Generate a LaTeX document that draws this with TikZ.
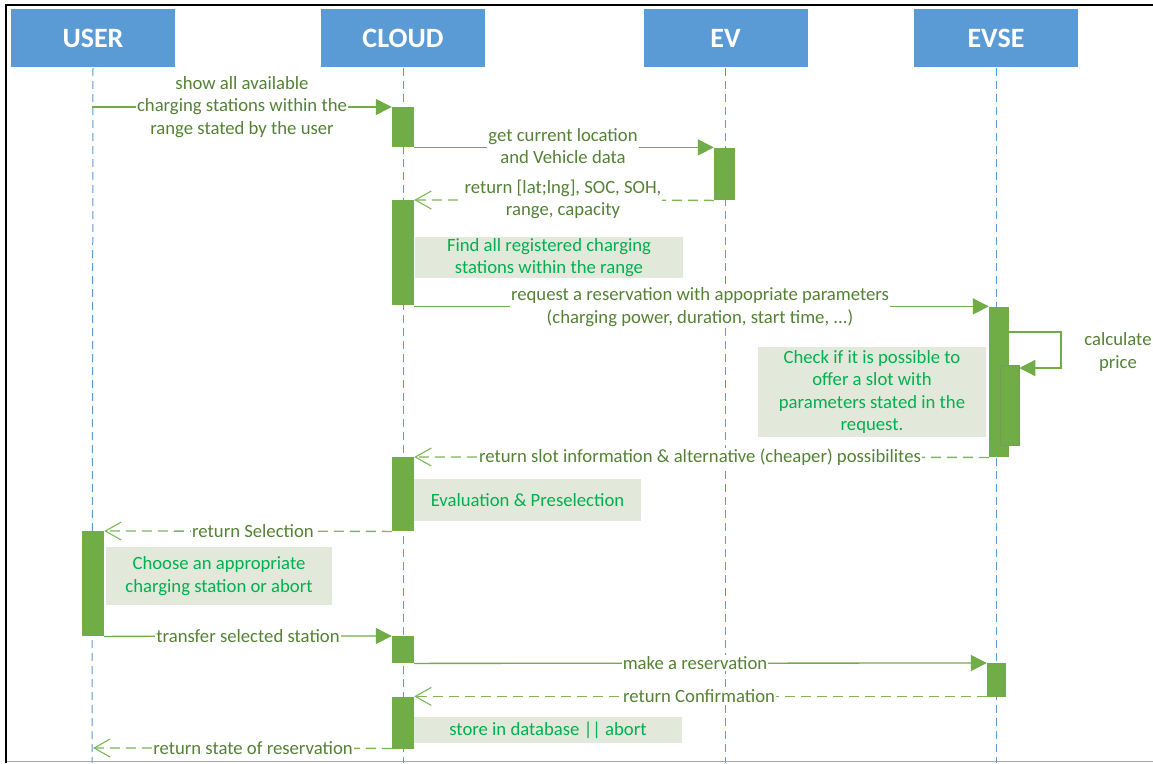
\documentclass[tikz,border=0pt]{standalone}
\usepackage{fontspec}
\setmainfont{Carlito}
\usetikzlibrary{arrows.meta,backgrounds}
\definecolor{hdrblue}{HTML}{5B9BD5}
\definecolor{bargreen}{HTML}{70AD47}
\definecolor{msgtext}{HTML}{548235}
\definecolor{notetext}{HTML}{00B050}
\definecolor{notefill}{RGB}{226,233,218}
\definecolor{retgreen}{HTML}{7DB857}
\tikzset{
  hdr/.style={fill=hdrblue, draw=none, minimum width=164pt, minimum height=58pt, inner sep=0pt,
    text=white, font=\fontsize{28}{30}\selectfont\bfseries},
  life/.style={draw=hdrblue, line width=1pt, dash pattern=on 8pt off 5pt},
  actbar/.style={fill=bargreen, draw=none, inner sep=0pt, anchor=north},
  msg/.style={draw=bargreen, line width=1.3pt, -{Triangle[length=16pt,width=16pt]}},
  ret/.style={draw=retgreen, line width=1.3pt, dash pattern=on 10pt off 6pt,
    -{Straight Barb[length=16pt,width=18pt,line width=1.1pt]}},
  lbl/.style={fill=white, text=msgtext, inner sep=1pt, align=center,
    font=\fontsize{18.7}{22.3}\selectfont},
  note/.style={fill=notefill, draw=none, text=notetext, align=center, inner sep=0pt,
    font=\fontsize{18.7}{22.3}\selectfont},
}
\begin{document}
\begin{tikzpicture}[x=1pt,y=-1pt]
\useasboundingbox (0,0) rectangle (1153,763);
% headers
\node[hdr] (user)  at (93,38)    {USER};
\node[hdr] (cloud) at (403,38)   {CLOUD};
\node[hdr] (ev)    at (725.5,38) {EV};
\node[hdr] (evse)  at (996,38)   {EVSE};
% lifeline ends
\coordinate (userend)  at (92,763);
\coordinate (cloudend) at (403,763);
\coordinate (evend)    at (725,763);
\coordinate (evseend)  at (996,763);
% activation bars
\node[actbar, minimum width=22pt, minimum height=40pt]  (a1) at (403,107) {};
\node[actbar, minimum width=21pt, minimum height=52pt]  (b1) at (724.5,148) {};
\node[actbar, minimum width=22pt, minimum height=105pt] (a2) at (403,200) {};
\node[actbar, minimum width=20pt, minimum height=150pt] (e1) at (999,307) {};
\node[actbar, minimum width=19pt, minimum height=80pt, draw=msgtext!80, line width=0.5pt] (e2) at (1009.5,365) {};
\node[actbar, minimum width=22pt, minimum height=74pt]  (a3) at (403,457) {};
\node[actbar, minimum width=22pt, minimum height=105pt] (u1) at (93,531) {};
\node[actbar, minimum width=22pt, minimum height=27pt]  (a4) at (403,636) {};
\node[actbar, minimum width=19pt, minimum height=34pt]  (e3) at (996.5,663) {};
\node[actbar, minimum width=22pt, minimum height=52pt]  (a5) at (403,697) {};
% lifelines
\begin{scope}[on background layer]
\fill[white] (0,0) rectangle (1153,763);
\draw[life] ([yshift=-1pt]user.south)  -- (userend);
\draw[life] ([yshift=-1pt]cloud.south) -- (cloudend);
\draw[life] ([xshift=-0.5pt,yshift=-1pt]ev.south) -- (evend);
\draw[life] ([yshift=-1pt]evse.south)  -- (evseend);
\end{scope}
% coordinates on lifelines
\coordinate (m1s) at (92,107);
\coordinate (m10e) at (93,748);
\coordinate (loop) at (1061,332);
% messages
\draw[msg] (m1s) -- (a1.north west);
\node[lbl] (l1) at (242,107) {show all available\\charging stations within the\\range stated by the user};

\draw[msg] (a1.south east) -- (a1.south east -| b1.west);
\node[lbl] (l2) at (563,146) {get current location\\and Vehicle data};

\draw[ret] (b1.south west) -- (a2.north east);
\node[lbl] (l3) at (563,199.5) {return [lat;lng], SOC, SOH,\\range, capacity};

\node[note, minimum width=268pt, minimum height=41pt] (n1) at (549,257.5) {Find all registered charging\\stations within the range};

\draw[msg] ([yshift=-1pt]a2.south east) -- ([yshift=-1pt]a2.south east -| e1.west);
\node[lbl] (l4) at (700,307) {request a reservation with appopriate parameters\\(charging power, duration, start time, ...)};

\draw[msg] (e1.east |- loop) -- (loop) |- ([yshift=-3pt]e2.north east);
\node[text=msgtext, align=center, font=\fontsize{18.7}{22.3}\selectfont, inner sep=0pt] (l5) at (1118,352) {calculate\\price};

\node[note, minimum width=228pt, minimum height=90pt] (n2) at (872,392) {Check if it is possible to\\offer a slot with\\parameters stated in the\\request.};

\draw[ret] (e1.south west) -- (a3.north east);
\node[lbl] (l6) at (700,457) {return slot information \& alternative (cheaper) possibilites};

\node[note, minimum width=227pt, minimum height=42pt] (n3) at (527.5,500) {Evaluation \& Preselection};

\draw[ret] (a3.south west) -- (u1.north east);
\node[lbl] (l7) at (253,531) {return Selection};

\node[note, minimum width=226pt, minimum height=58pt] (n4) at (219,576) {Choose an appropriate\\charging station or abort};

\draw[msg] (u1.south east) -- (a4.north west);
\node[lbl] (l8) at (248,636) {transfer selected station};

\draw[msg] (a4.south east) -- (e3.north west);
\node[lbl] (l9) at (695,663) {make a reservation};

\draw[ret] ([yshift=1pt]e3.south west) -- ([yshift=1pt]e3.south west -| a5.east);
\node[lbl] (l10) at (699,696) {return Confirmation};

\node[note, minimum width=268pt, minimum height=26pt] (n5) at (548,730) {store in database || abort};

\draw[ret] ([yshift=1pt]a5.south west) -- (m10e);
\node[lbl] (l11) at (253,748) {return state of reservation};

% frame
\draw[black, line width=2.5pt] (5,5) -- (1153,5);
\draw[black, line width=2.5pt] (6,4) -- (6,763);
\draw[black!35, line width=1.5pt] (7,761.5) -- (1153,761.5);
\end{tikzpicture}
\end{document}
